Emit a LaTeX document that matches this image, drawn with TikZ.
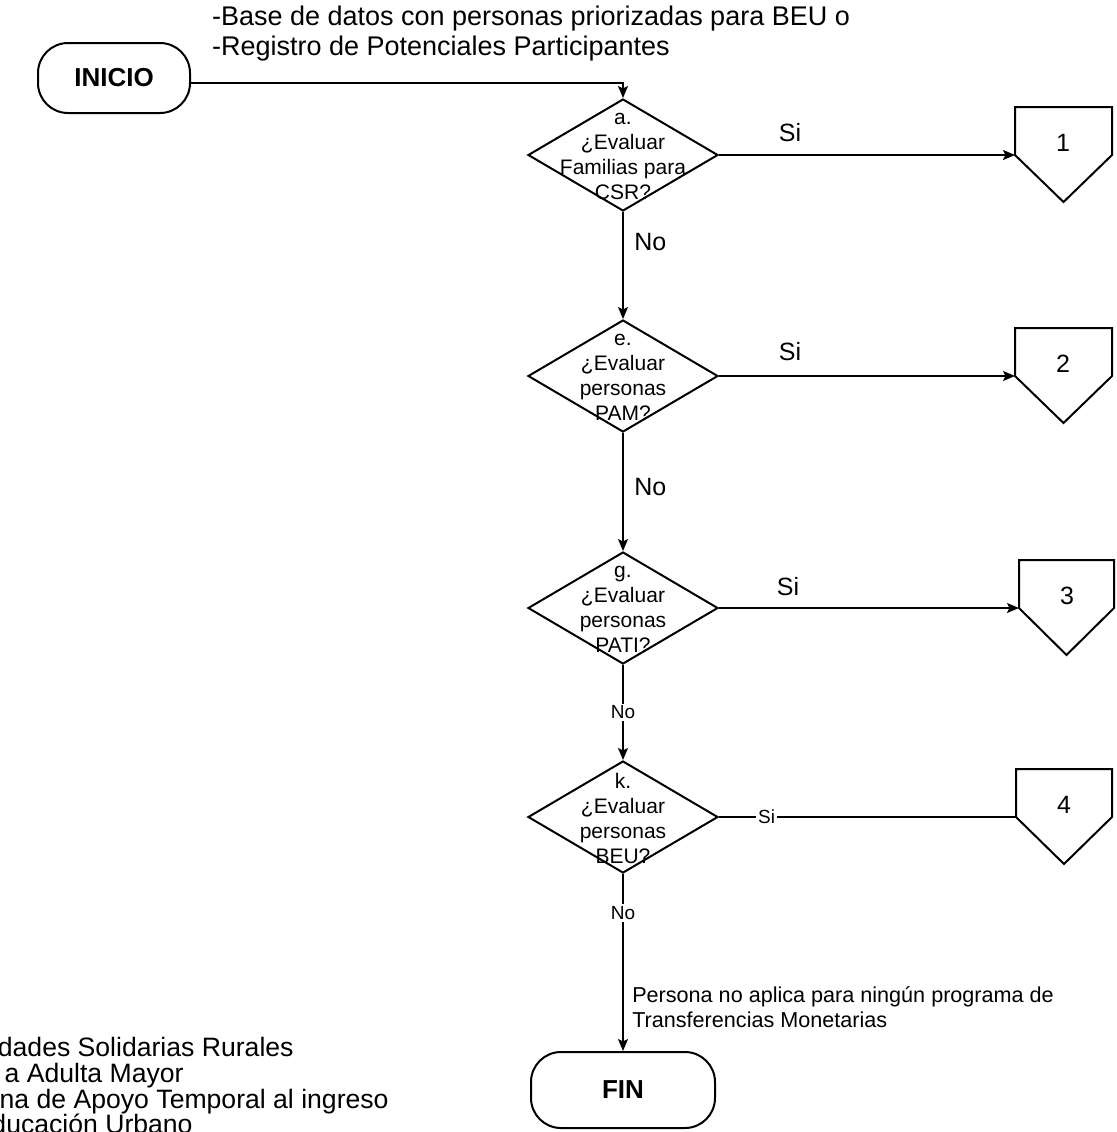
\documentclass[tikz,border=0pt]{standalone}
\usepackage{fontspec}
\setmainfont{Liberation Sans}
\usetikzlibrary{arrows.meta,shapes.geometric,calc}

\begin{document}
\begin{tikzpicture}[x=0.5pt,y=-0.5pt,
    terminal/.style={draw, line width=1pt, rounded corners=15pt, font=\fontsize{13}{15}\selectfont\bfseries},
    decision/.style={draw, diamond, line width=1pt, minimum width=95pt, minimum height=56pt, inner sep=0pt},
    dectext/.style={align=center, font=\fontsize{10.5}{12.5}\selectfont, inner sep=0pt},
    penta/.style={draw, line width=1pt, line join=miter},
    flecha/.style={line width=0.65pt, -{Stealth[length=6pt,width=5pt,inset=1.2pt]}},
    linea/.style={line width=0.65pt},
    etq/.style={font=\fontsize{12.5}{15}\selectfont},
    etqs/.style={font=\fontsize{9.5}{11}\selectfont, fill=white, inner sep=1pt},
    nota/.style={font=\fontsize{10.8}{12.5}\selectfont, align=left},
    leyenda/.style={font=\fontsize{13.3}{13}\selectfont, inner sep=0pt, anchor=base east}]
            \useasboundingbox(0,0)rectangle(1116,1132);

            % inicio
            \node[terminal, minimum width=76pt, minimum height=35pt](inicio)at(114,78){INICIO};
            \node[anchor=west, align=left, font=\fontsize{13.5}{15}\selectfont](datos)at(205,34){-Base de datos con personas priorizadas para BEU o\\-Registro de Potenciales Participantes};

            % decisiones
            \node[decision](a)at(623,155){};
            \node[dectext](ta)at(623,156){a.\\¿Evaluar\\Familias para\\CSR?};
            \node[decision](e)at(623,376){};
            \node[dectext](te)at(623,377){e.\\¿Evaluar\\personas\\PAM?};
            \node[decision](g)at(623,608){};
            \node[dectext](tg)at(623,609){g.\\¿Evaluar\\personas\\PATI?};
            \node[decision](k)at(623,817){};
            \node[dectext](tk)at(623,818){k.\\¿Evaluar\\personas\\BEU?};

            % conectores de pagina
            \coordinate(c1)at(1015,155);
            \node[etq](n1)at(1063,143){1};
            \path[penta](c1)--++(0,-48)--++(97,0)--++(0,48)--++(-48.5,47)--cycle;
            \coordinate(c2)at(1015,376);
            \node[etq](n2)at(1063,364){2};
            \path[penta](c2)--++(0,-48)--++(97,0)--++(0,48)--++(-48.5,47)--cycle;
            \coordinate(c3)at(1019,608);
            \node[etq](n3)at(1067,596){3};
            \path[penta](c3)--++(0,-48)--++(95,0)--++(0,48)--++(-47.5,47)--cycle;
            \coordinate(c4)at(1016,817);
            \node[etq](n4)at(1064,805){4};
            \path[penta](c4)--++(0,-48)--++(96,0)--++(0,48)--++(-48,47)--cycle;

            % fin
            \node[terminal, minimum width=92pt, minimum height=38pt](fin)at(623,1090){FIN};

            % flechas
            \draw[flecha]([yshift=-2.5pt]inicio.east)-|(a.north);
            \draw[flecha](a.east)--node[etq, pos=0.24, yshift=11pt](si1){Si}(c1);
            \draw[flecha](a.south)--node[etq, pos=0.28, right=2pt](no1){No}(e.north);
            \draw[flecha](e.east)--node[etq, pos=0.24, yshift=12pt](si2){Si}(c2);
            \draw[flecha](e.south)--node[etq, pos=0.46, right=2pt](no2){No}(g.north);
            \draw[flecha](g.east)--node[etq, pos=0.23, yshift=10.5pt](si3){Si}(c3);
            \draw[flecha](g.south)--node[etqs](no3){No}(k.north);
            \draw[linea](k.east)--node[etqs, pos=0.16](si4){Si}(c4);
            \draw[flecha](k.south)--node[etqs, pos=0.22](no4){No}
                node[nota, pos=0.75, right=1pt](nota){Persona no aplica para ningún programa de\\Transferencias Monetarias}(fin.north);

            % siglas
            \node[leyenda](l1)at(294,1056){dades Solidarias Rurales};
            \node[leyenda](l2)at(184,1082){a Adulta Mayor};
            \node[leyenda](l3)at(389,1108){na de Apoyo Temporal al ingreso};
            \node[leyenda](l4)at(193,1133){ducación Urbano};
        \end{tikzpicture}
\end{document}
